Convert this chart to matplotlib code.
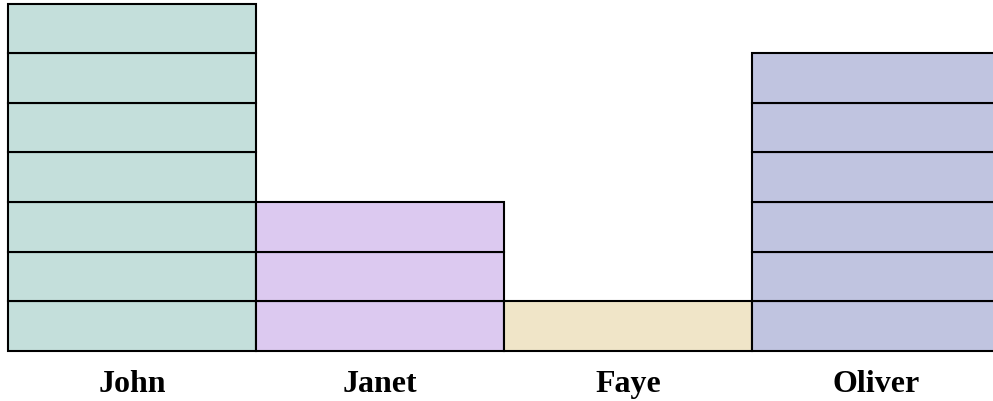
import matplotlib
matplotlib.use("Agg")
import matplotlib.pyplot as plt

names = ["John", "Janet", "Faye", "Oliver"]
counts = [7, 3, 1, 6]
colors = ["#c4dfdb", "#dcc9f0", "#f0e5c8", "#c0c4e0"]

W, H = 993, 402
fig = plt.figure(figsize=(W / 100, H / 100), dpi=100)
left, right, top, bottom = 8, 1000, 4.5, 352
ax = fig.add_axes([left / W, 1 - bottom / H, (right - left) / W, (bottom - top) / H])

for i, (n, c, col) in enumerate(zip(names, counts, colors)):
    for k in range(c):
        ax.bar(i, 1, bottom=k, width=1.0, color=col, edgecolor="black", linewidth=1.5)

ax.set_xlim(-0.5, len(names) - 0.5)
ax.set_ylim(0, max(counts))
ax.set_xticks(range(len(names)))
ax.set_xticklabels(names, fontfamily="Liberation Serif", fontweight="bold", fontsize=23)
ax.tick_params(axis="x", length=0, pad=13)
ax.set_yticks([])
for s in ax.spines.values():
    s.set_visible(False)
for b in ax.patches:
    b.set_clip_on(False)

fig.savefig("out.png", dpi=100)
